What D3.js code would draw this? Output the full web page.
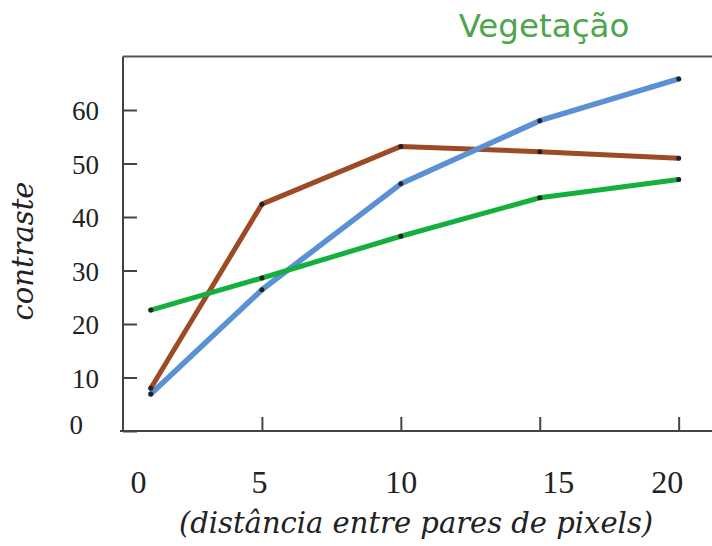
<!DOCTYPE html>
<html>
<head>
<meta charset="utf-8">
<script src="https://cdn.jsdelivr.net/npm/d3@7"></script>
<style>
  body { margin: 0; background: #fff; }
</style>
</head>
<body>
<script>
// DADOS
var distancias = [1, 5, 10, 15, 20]
var serieMarrom = [8.0, 42.4, 53.2, 52.2, 51.0]
var serieAzul   = [6.9, 26.4, 46.2, 58.0, 65.8]
var serieVerde  = [22.6, 28.6, 36.4, 43.6, 47.0]
var ticksX = [0, 5, 10, 15, 20]
var ticksY = [0, 10, 20, 30, 40, 50, 60]
var titulo = "Vegetação"
var rotuloX = "(distância entre pares de pixels)"
var rotuloY = "contraste"

var series = [
  { nome: "marrom", valores: serieMarrom, cor: "#9c4b24", largura: 5 },
  { nome: "azul",   valores: serieAzul,   cor: "#5b90d5", largura: 5.5 },
  { nome: "verde",  valores: serieVerde,  cor: "#14b03e", largura: 5 }
]

var largura = 712, altura = 546
var fonteSerif = "'Liberation Serif', 'Times New Roman', serif"

var svg = d3.select("body")
  .append("svg")
  .attr("width", largura)
  .attr("height", altura)

// ESCALAS
var x = d3.scaleLinear().domain([0, 21.2]).range([123, 712])
var y = d3.scaleLinear().domain([0, 70]).range([431, 56.5])

var corEixo = "#444"

// MOLDURA: linha de cima
svg.append("line")
  .attr("x1", x(0)).attr("x2", x(21.2))
  .attr("y1", y(70)).attr("y2", y(70))
  .style("stroke", "#555").style("stroke-width", 2)

// EIXO Y
var eixoY = svg.append("g")
  .attr("transform", "translate(" + x(0) + ",0)")
  .call(d3.axisLeft(y).tickValues(ticksY).tickSize(-14).tickPadding(24).tickFormat(d3.format("d")))
eixoY.attr("font-family", fonteSerif)
eixoY.select(".domain").attr("d", "M0," + y(0) + "V" + y(70))
eixoY.selectAll("path, line").style("stroke", corEixo).style("stroke-width", 2)
eixoY.selectAll("text")
  .style("font-family", fonteSerif)
  .style("font-size", "27px")
  .style("fill", "#222")
  .attr("dx", d => d == 0 ? -16 : 0)
  .attr("dy", d => d == 0 ? "0.1em" : "0.36em")

// EIXO X
var eixoX = svg.append("g")
  .attr("transform", "translate(0," + y(0) + ")")
  .call(d3.axisBottom(x).tickValues(ticksX).tickSize(-14).tickFormat(d3.format("d")))
eixoX.attr("font-family", fonteSerif)
eixoX.select(".domain").attr("d", "M" + (x(0) - 3) + ",0H" + x(21.2))
eixoX.selectAll(".tick line").style("opacity", d => d == 0 ? 0 : 1)
eixoX.selectAll("path, line").style("stroke", corEixo).style("stroke-width", 2)
var ajusteX = { 0: 15, 5: -3, 10: 0, 15: 18, 20: -12 }
eixoX.selectAll("text")
  .style("font-family", fonteSerif)
  .style("font-size", "32px")
  .style("fill", "#222")
  .attr("y", 62).attr("dy", 0)
  .attr("dx", d => ajusteX[d])

// LINHAS
var linha = d3.line()
  .x((d, i) => x(distancias[i]))
  .y(d => y(d))

svg.append("g")
  .selectAll("path")
  .data(series)
  .enter()
  .append("path")
  .attr("d", d => linha(d.valores))
  .style("fill", "none")
  .style("stroke", d => d.cor)
  .style("stroke-width", d => d.largura)
  .style("stroke-linecap", "round")
  .style("stroke-linejoin", "round")

// PONTOS
svg.append("g")
  .selectAll("g")
  .data(series)
  .enter()
  .append("g")
  .selectAll("circle")
  .data(d => d.valores)
  .enter()
  .append("circle")
  .attr("cx", (d, i) => x(distancias[i]))
  .attr("cy", d => y(d))
  .attr("r", 2.5)
  .style("fill", "#222")

// TITULO
svg.append("text")
  .attr("x", 544).attr("y", 37)
  .attr("text-anchor", "middle")
  .style("font-family", "'DejaVu Sans', Verdana, sans-serif")
  .style("font-size", "32.5px")
  .style("fill", "#4ca64a")
  .text(titulo)

// ROTULOS DOS EIXOS
svg.append("text")
  .attr("x", 416).attr("y", 533)
  .attr("text-anchor", "middle")
  .style("font-family", "'DejaVu Serif', serif")
  .style("font-style", "italic")
  .style("font-size", "29px")
  .style("fill", "#222")
  .text(rotuloX)

svg.append("text")
  .attr("transform", "translate(33,251) rotate(-90)")
  .attr("text-anchor", "middle")
  .style("font-family", "'DejaVu Serif', serif")
  .style("font-style", "italic")
  .style("font-size", "29px")
  .style("fill", "#222")
  .text(rotuloY)
</script>
</body>
</html>
